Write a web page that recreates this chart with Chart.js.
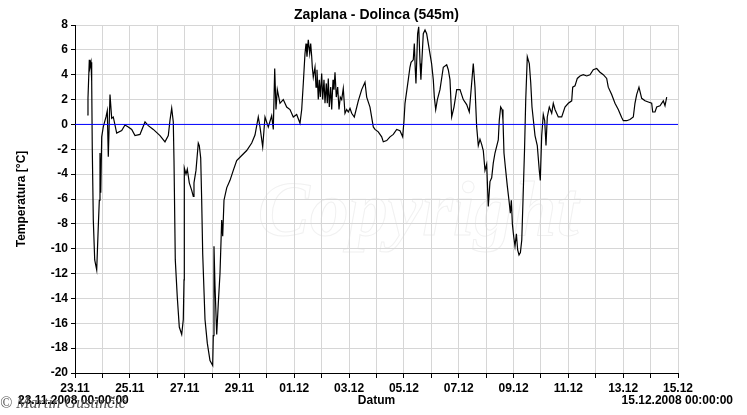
<!DOCTYPE html>
<html>
<head>
<meta charset="utf-8">
<script src="https://cdn.jsdelivr.net/npm/chart.js@4/dist/chart.umd.min.js"></script>
<style>
  html, body { margin: 0; padding: 0; background: #fff; }
  #wrap { width: 747px; height: 415px; position: relative; }
</style>
</head>
<body>
<div id="wrap"><canvas id="grafTemp" width="747" height="415"></canvas></div>
<script>
// dnevne oznake osi x (od 23.11.2008 00:00 do 15.12.2008 00:00)
const dnevi = ['23.11','24.11','25.11','26.11','27.11','28.11','29.11','30.11','01.12','02.12','03.12',
  '04.12','05.12','06.12','07.12','08.12','09.12','10.12','11.12','12.12','13.12','14.12','15.12'];

// cas v dnevih od zacetka in temperatura [°C]
const cas = [0.449,0.474,0.522,0.547,0.584,0.609,0.631,0.668,0.719,0.792,0.850,0.887,0.912,0.940,0.974,
  1.032,1.131,1.178,1.215,1.277,1.339,1.397,1.521,1.704,1.824,1.945,2.069,2.189,2.371,2.554,2.674,2.857,
  3.101,3.283,3.404,3.466,3.528,3.586,3.612,3.659,3.732,3.805,3.893,3.951,3.977,3.988,4.050,4.097,4.170,
  4.258,4.316,4.341,4.414,4.498,4.535,4.586,4.622,4.659,4.743,4.827,4.925,5.024,5.046,5.071,5.108,5.170,
  5.228,5.290,5.352,5.389,5.436,5.535,5.655,5.775,5.899,6.082,6.264,6.447,6.567,6.687,6.749,6.848,6.932,
  7.052,7.176,7.235,7.286,7.333,7.381,7.479,7.599,7.723,7.844,7.964,8.088,8.209,
  8.271,8.329,8.391,8.428,8.464,8.511,8.563,8.599,8.636,8.658,8.694,8.756,8.793,8.829,8.876,8.913,8.950,
  9.000,9.037,9.084,9.121,9.169,9.205,9.241,9.278,9.329,9.365,9.413,9.449,9.486,9.533,9.584,9.632,9.679,
  9.730,9.788,9.850,9.912,9.971,10.033,10.095,10.190,
  10.336,10.460,10.580,10.642,10.762,10.883,10.945,11.065,11.189,11.248,
  11.372,11.492,11.613,11.737,11.857,11.955,12.003,12.040,12.160,12.220,12.260,12.342,12.380,12.415,12.440,
  12.500,12.540,12.590,12.620,12.707,12.770,12.830,12.890,12.950,13.010,13.072,13.110,13.160,13.220,
  13.316,13.437,13.561,13.619,
  13.681,13.743,13.827,13.926,14.046,14.166,14.290,14.385,14.531,14.593,14.655,14.714,14.776,14.837,
  14.896,14.958,15.020,15.078,15.140,15.202,15.261,15.323,15.443,15.480,15.530,15.580,15.615,
  15.651,15.700,15.775,15.833,15.884,15.920,15.957,16.004,16.053,16.104,16.150,16.199,16.250,16.300,
  16.345,16.400,16.445,16.502,
  16.575,16.626,16.673,16.721,16.783,16.866,16.939,16.976,17.027,17.085,17.136,17.184,17.231,17.304,
  17.392,17.450,17.512,17.633,17.757,17.877,17.998,18.122,18.158,18.242,18.326,18.424,18.545,18.669,
  18.789,18.909,19.033,19.154,19.274,19.398,19.456,19.580,19.701,19.821,19.945,20.004,20.127,20.248,
  20.369,20.430,20.492,20.576,20.675,20.796,20.916,21.040,21.077,21.161,21.223,21.343,21.464,21.526,21.588];

const temperatura = [0.76,2.1,5.2,4.6,5.0,3.5,-2.06,-7.7,-10.9,-11.7,-8.2,-6.1,-2.3,-5.5,-1.0,
  -0.2,0.6,1.1,-2.6,2.4,0.5,0.6,-0.7,-0.5,-0.05,-0.2,-0.4,-0.9,-0.8,0.2,-0.1,-0.4,
  -0.9,-1.4,-0.9,0.35,1.3,0.2,-2.9,-10.9,-13.9,-16.3,-16.9,-15.7,-12.5,-3.5,-4.0,-3.6,-4.7,
  -5.3,-5.8,-4.7,-3.7,-1.5,-1.7,-2.7,-6.1,-10.4,-15.7,-17.6,-19.0,-19.4,-17.0,-9.8,-13.0,-16.9,
  -14.4,-12.0,-7.7,-9.0,-6.1,-5.1,-4.5,-3.7,-2.9,-2.5,-2.1,-1.5,-0.85,0.6,-0.2,-1.8,0.6,
  -0.2,0.7,-0.4,4.5,1.2,2.8,1.7,2.0,1.4,1.2,0.6,0.8,0.1,
  1.2,3.3,5.7,6.5,5.45,6.8,5.7,6.5,5.45,4.6,3.8,4.6,3.0,4.4,2.0,3.6,2.2,
  4.1,2.0,3.6,1.7,3.3,1.7,3.7,1.4,3.0,1.2,3.6,2.8,4.2,2.2,3.0,1.2,2.2,
  2.0,2.9,0.9,1.2,1.0,1.3,0.9,0.6,
  1.9,2.8,3.4,2.2,1.4,-0.2,-0.4,-0.6,-1.0,-1.4,
  -1.3,-1.0,-0.8,-0.4,-0.5,-1.0,0.3,1.7,3.6,4.6,5.0,5.2,6.5,4.4,3.3,
  7.3,7.85,4.9,3.6,7.3,7.6,7.3,6.5,5.7,4.9,3.6,2.2,1.2,2.0,
  2.8,4.6,4.8,4.4,
  3.6,0.6,1.4,2.8,2.8,2.0,1.6,1.0,4.9,3.0,-0.2,-1.7,-1.2,-1.6,
  -2.1,-3.7,-3.2,-6.6,-4.6,-4.3,-3.1,-2.3,-1.25,0.35,1.4,1.2,0.35,
  -2.3,-3.4,-5.0,-6.1,-7.15,-6.1,-8.0,-9.0,-9.8,-8.8,-10.1,-10.5,-10.3,-9.3,
  -6.1,-2.1,2.0,5.45,
  4.9,3.4,1.4,0.4,-0.9,-1.7,-3.7,-4.5,-0.9,0.8,0.3,-1.7,0.6,1.4,
  0.9,1.7,1.2,0.6,0.6,1.4,1.7,1.9,3.0,3.1,3.7,3.9,4.0,3.9,
  4.0,4.4,4.5,4.2,4.0,3.7,3.0,2.4,1.7,1.2,0.55,0.3,0.3,0.4,
  0.6,1.7,2.4,3.0,2.1,1.9,1.8,1.7,1.0,1.0,1.4,1.5,1.9,1.5,2.2];

const naslov = 'Zaplana - Dolinca (545m)';
const oznakaY = 'Temperatura [°C]';
const oznakaX = 'Datum';
const zacetek = '23.11.2008 00:00:00';
const konec = '15.12.2008 00:00:00';
const referenca = 0; // modra crta pri 0 °C

// dodatna besedila okoli grafa
const besedila = {
    id: 'besedila',
    beforeDraw(chart) {
        const c = chart.ctx;
        c.save();
        // bled vodni znak na sredini
        c.font = 'italic bold 78px "Liberation Serif"';
        c.strokeStyle = '#f1f1f1';
        c.lineWidth = 1;
        c.textAlign = 'center';
        c.textBaseline = 'middle';
        c.strokeText('Copyright', 418, 215);
        c.restore();
    },
    afterDraw(chart) {
        const c = chart.ctx;
        const a = chart.chartArea;
        const sredina = (a.left + a.right) / 2;
        c.save();
        c.fillStyle = '#000';
        c.textBaseline = 'middle';
        c.textAlign = 'center';
        c.font = 'bold 14px "Liberation Sans", Arial';
        c.fillText(naslov, sredina, 15);
        c.font = 'bold 12px "Liberation Sans", Arial';
        c.fillText(oznakaX, sredina, 401);
        c.textAlign = 'left';
        c.fillText(zacetek, 18, 401);
        c.textAlign = 'right';
        c.fillText(konec, 733, 401);
        // os y
        c.save();
        c.translate(22, (a.top + a.bottom) / 2);
        c.rotate(-Math.PI / 2);
        c.textAlign = 'center';
        c.fillText(oznakaY, 0, 0);
        c.restore();
        // avtor
        c.font = 'italic 16px "Liberation Serif"';
        c.fillStyle = '#555';
        c.textAlign = 'left';
        c.fillText('© Martin Gustinčič', 0, 404);
        c.restore();
    }
};

const ctx = document.getElementById('grafTemp').getContext('2d');
new Chart(ctx, {
    type: 'line',
    data: {
        datasets: [{
            label: 'Temperatura',
            data: cas.map((d, i) => ({ x: d, y: temperatura[i] })),
            borderColor: '#000',
            borderWidth: 1.2,
            pointRadius: 0,
            tension: 0,
            order: 1
        }, {
            label: '0 °C',
            data: [{ x: 0, y: referenca }, { x: dnevi.length - 1, y: referenca }],
            borderColor: '#0000ff',
            borderWidth: 1,
            pointRadius: 0,
            order: 0
        }]
    },
    options: {
        responsive: false,
        animation: false,
        layout: { padding: { top: 25, right: 69, left: 0, bottom: 0 } },
        plugins: {
            legend: { display: false },
            title: { display: false },
            tooltip: { enabled: false }
        },
        scales: {
            x: {
                type: 'linear',
                min: 0,
                max: dnevi.length - 1,
                afterFit: s => { s.height = 42; },
                ticks: {
                    stepSize: 1,
                    autoSkip: false,
                    maxRotation: 0,
                    padding: 3,
                    color: '#000',
                    font: { family: '"Liberation Sans", Arial', size: 12, weight: 'bold' },
                    callback: v => (v % 2 === 0 ? dnevi[v] : '')
                },
                grid: { color: '#d6d6d6', tickColor: '#000', tickLength: 5 },
                border: { color: '#000', width: 1 }
            },
            y: {
                min: -20,
                max: 8,
                afterFit: s => { s.width = 75; },
                ticks: {
                    stepSize: 2,
                    padding: 3,
                    color: '#000',
                    font: { family: '"Liberation Sans", Arial', size: 12, weight: 'bold' }
                },
                grid: { color: '#d6d6d6', tickColor: '#000', tickLength: 4 },
                border: { color: '#000', width: 1 }
            }
        }
    },
    plugins: [besedila]
});
</script>
</body>
</html>
